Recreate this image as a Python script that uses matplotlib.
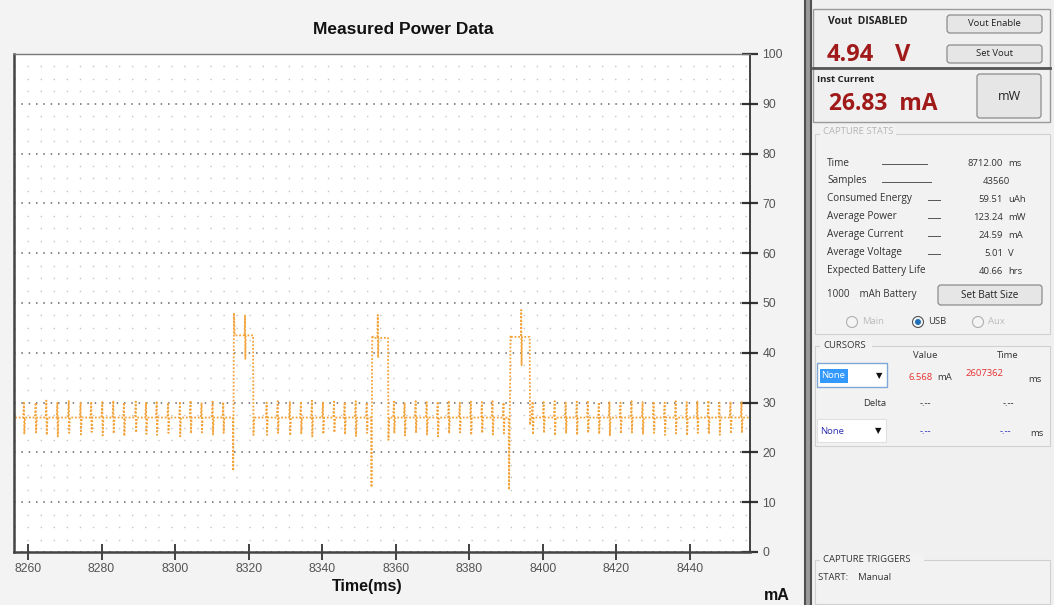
# Measured power trace + capture panel (screenshot style)
import matplotlib
matplotlib.use("Agg")
import matplotlib.pyplot as plt
from matplotlib.patches import Rectangle, FancyBboxPatch, Circle
from matplotlib.ticker import MultipleLocator

W, H = 1054, 605

# ---- trace data (ms / mA) ----
base_level = 27.0
spike_t = [8258.9, 8262.1, 8265.0, 8268.0, 8271.1, 8274.3, 8277.2, 8280.2, 8283.2, 8286.1,
           8289.3, 8292.1, 8295.0, 8298.1, 8301.3, 8304.2, 8307.2, 8310.2, 8313.1,
           8324.9, 8327.9, 8331.2, 8334.2, 8337.2, 8340.2, 8343.2, 8346.1, 8349.1, 8352.1,
           8359.5, 8362.4, 8365.4, 8368.4, 8371.4, 8374.4, 8377.4, 8380.4, 8383.4, 8386.3, 8389.3,
           8397.2, 8400.2, 8403.2, 8406.2, 8409.2, 8412.2, 8415.2, 8418.1, 8421.1, 8424.1,
           8427.1, 8430.1, 8433.1, 8436.1, 8439.1, 8442.0, 8445.0, 8448.0, 8451.0, 8454.0]
spike_hi = [30.2, 30.0, 30.4, 30.1, 30.3, 30.0, 30.2, 30.1, 30.4, 30.0,
            30.2, 30.1, 30.3, 30.0, 30.2, 30.4, 30.0, 30.2, 30.1,
            30.0, 30.3, 30.1, 30.2, 30.4, 30.0, 30.2, 30.1, 30.3, 30.0,
            30.2, 30.0, 30.3, 30.1, 30.2, 30.4, 30.0, 30.2, 30.1, 30.3, 30.0,
            30.2, 30.1, 30.3, 30.0, 30.2, 30.4, 30.1, 30.2, 30.0, 30.3,
            30.1, 30.2, 30.0, 30.3, 30.1, 30.2, 30.4, 30.0, 30.2, 30.1]
spike_lo = [23.8, 24.0, 23.5, 23.2, 23.9, 23.6, 24.1, 23.4, 23.8, 23.3,
            24.0, 23.7, 23.5, 23.9, 23.2, 23.8, 24.0, 23.6, 23.9,
            23.5, 23.9, 23.4, 23.8, 23.2, 23.7, 24.0, 23.6, 23.3, 23.9,
            23.8, 23.4, 23.9, 23.6, 23.2, 23.8, 24.0, 23.5, 23.9, 23.6, 23.8,
            23.6, 23.9, 23.4, 23.8, 23.5, 23.9, 23.7, 23.3, 23.8, 24.0,
            23.6, 23.9, 23.5, 23.8, 23.4, 23.9, 23.7, 23.5, 23.8, 23.9]

pulse_dip_t = [8315.8, 8353.4, 8390.8]
pulse_dip = [16.3, 13.0, 12.5]
pulse_rise = [8316.0, 8353.6, 8391.2]
pulse_rise_top = [48.0, 43.5, 43.5]
pulse_level = [43.5, 43.0, 43.2]
pulse_spk_t = [8319.0, 8355.1, 8394.1]
pulse_spk_hi = [47.5, 47.6, 48.6]
pulse_spk_lo = [38.8, 39.0, 37.5]
pulse_fall = [8321.2, 8357.9, 8396.4]
pulse_fall_low = [23.5, 22.5, 25.5]

x_ticks = [8260, 8280, 8300, 8320, 8340, 8360, 8380, 8400, 8420, 8440]
y_ticks = [0, 10, 20, 30, 40, 50, 60, 70, 80, 90, 100]

# ---- panel text ----
stat_labels = ["Time", "Samples", "Consumed Energy", "Average Power", "Average Current",
               "Average Voltage", "Expected Battery Life"]
stat_values = ["8712.00", "43560", "59.51", "123.24", "24.59", "5.01", "40.66"]
stat_units = ["ms", "", "uAh", "mW", "mA", "V", "hrs"]

# build the trace as one polyline
events = []
for t, hi, lo in zip(spike_t, spike_hi, spike_lo):
    events.append([(t - 0.2, base_level), (t, hi), (t + 0.1, lo), (t + 0.3, base_level)])
for i in range(len(pulse_rise)):
    events.append([(pulse_dip_t[i] - 0.1, base_level), (pulse_dip_t[i], pulse_dip[i]),
                   (pulse_rise[i], pulse_rise_top[i]), (pulse_rise[i] + 0.2, pulse_level[i]),
                   (pulse_spk_t[i] - 0.1, pulse_level[i]), (pulse_spk_t[i], pulse_spk_hi[i]),
                   (pulse_spk_t[i] + 0.1, pulse_spk_lo[i]), (pulse_spk_t[i] + 0.2, pulse_level[i]),
                   (pulse_fall[i], pulse_level[i]), (pulse_fall[i] + 0.1, pulse_fall_low[i]),
                   (pulse_fall[i] + 0.3, base_level)])
events.sort(key=lambda e: e[0][0])
tx, ty = [8256.5], [base_level]
for e in events:
    for a, b in e:
        tx.append(a)
        ty.append(b)
tx.append(8456.0)
ty.append(base_level)

fig = plt.figure(figsize=(W / 100, H / 100), dpi=100)
fig.patch.set_facecolor("#F0F0F0")

# background / ui layer in pixel coords
bg = fig.add_axes([0, 0, 1, 1])
bg.set_xlim(0, W)
bg.set_ylim(H, 0)
bg.axis("off")

ui = "Open Sans"
fs = 6.8
bg.add_patch(Rectangle((0, 0), 804, H, color="#F3F3F3", lw=0))
bg.add_patch(Rectangle((804, 0), 8, H, color="#9A9A9A", lw=0))
bg.plot([805, 805], [0, H], color="#505050", lw=1.5)
bg.plot([811, 811], [0, H], color="#505050", lw=1.5)

bg.text(403, 30, "Measured Power Data", ha="center", va="center", fontsize=12.5,
        fontweight="bold", family="Liberation Sans", color="#111")
bg.text(367, 586, "Time(ms)", ha="center", va="center", fontsize=11.5,
        fontweight="bold", family="Liberation Sans", color="#111")
bg.text(777, 596, "mA", ha="center", va="center", fontsize=11.5,
        fontweight="bold", family="Liberation Sans", color="#111")


def button(x0, y0, x1, y1, label, size=fs):
    bg.add_patch(FancyBboxPatch((x0, y0), x1 - x0, y1 - y0, boxstyle="round,pad=0,rounding_size=3",
                                fc="#E6E6E6", ec="#8C8C8C", lw=0.9))
    bg.text((x0 + x1) / 2, (y0 + y1) / 2, label, ha="center", va="center",
            fontsize=size, family=ui, color="#222")


def group(x0, y0, x1, y1, ec="#D0D0D0"):
    bg.add_patch(Rectangle((x0, y0), x1 - x0, y1 - y0, fc="#F2F2F2", ec=ec, lw=0.8))


# Vout / current block
bg.add_patch(Rectangle((813, 9), 237, 59, fc="#F0F0F0", ec="#9A9A9A", lw=1))
bg.add_patch(Rectangle((813, 68), 237, 54, fc="#F0F0F0", ec="#9A9A9A", lw=1))
bg.plot([813, 1050], [68, 68], color="#555", lw=2)
bg.text(828, 22, "Vout  DISABLED", ha="left", va="center", fontsize=7.5,
        fontweight="bold", family=ui, color="#222")
button(947, 15, 1042, 33, "Vout Enable")
button(947, 45, 1042, 63, "Set Vout")
bg.text(827, 55, "4.94", ha="left", va="center", fontsize=17, fontweight="bold",
        family=ui, color="#A01A1A")
bg.text(895, 55, "V", ha="left", va="center", fontsize=17, fontweight="bold",
        family=ui, color="#A01A1A")
bg.text(817, 79, "Inst Current", ha="left", va="center", fontsize=6.8,
        fontweight="bold", family=ui, color="#222")
bg.text(829, 104, "26.83  mA", ha="left", va="center", fontsize=16.5, fontweight="bold",
        family=ui, color="#A01A1A")
button(977, 74, 1041, 118, "mW", size=9)

# capture stats
group(815, 134, 1050, 334)
bg.add_patch(Rectangle((820, 125), 76, 12, fc="#F2F2F2", lw=0))
bg.text(823, 131, "CAPTURE STATS", ha="left", va="center", fontsize=fs,
        family=ui, color="#B5B5B5")
row_y = [163, 181, 199, 217, 235, 253, 271]
dash_x = [(882, 927), (882, 931), (928, 940), (928, 940), (928, 940), (928, 940), None]
for i, lab in enumerate(stat_labels):
    y = row_y[i]
    bg.text(827, y, lab, ha="left", va="center", fontsize=7.2, family=ui, color="#333")
    if dash_x[i]:
        bg.plot(dash_x[i], [y + 1, y + 1], color="#555", lw=0.7)
    if stat_units[i]:
        bg.text(1003, y, stat_values[i], ha="right", va="center", fontsize=fs, family=ui, color="#333")
        bg.text(1008, y, stat_units[i], ha="left", va="center", fontsize=fs, family=ui, color="#333")
    else:
        bg.text(1010, y, stat_values[i], ha="right", va="center", fontsize=fs, family=ui, color="#333")
bg.text(827, 295, "1000    mAh Battery", ha="left", va="center", fontsize=7, family=ui, color="#333")
button(938, 285, 1042, 305, "Set Batt Size", size=7.2)
for cx, lab, on in [(852, "Main", False), (918, "USB", True), (978, "Aux", False)]:
    bg.add_patch(Circle((cx, 322), 5.5, fc="#F4F4F4", ec="#B0B0B0" if not on else "#555", lw=0.8))
    if on:
        bg.add_patch(Circle((cx, 322), 3, fc="#1E6FB8", ec="none"))
    bg.text(cx + 10, 322, lab, ha="left", va="center", fontsize=fs, family=ui,
            color="#333" if on else "#BBBBBB")

# cursors
group(815, 346, 1050, 446)
bg.add_patch(Rectangle((820, 339), 52, 12, fc="#F2F2F2", lw=0))
bg.text(823, 345, "CURSORS", ha="left", va="center", fontsize=fs, family=ui, color="#333")
bg.text(925, 356, "Value", ha="center", va="center", fontsize=fs, family=ui, color="#333")
bg.text(1008, 356, "Time", ha="center", va="center", fontsize=fs, family=ui, color="#333")
bg.add_patch(Rectangle((817, 363), 70, 24, fc="#FFFFFF", ec="#7EA6D6", lw=1))
bg.add_patch(Rectangle((820, 369), 28, 14, fc="#3399FF", lw=0))
bg.text(821, 376, "None", ha="left", va="center", fontsize=fs, family=ui, color="white")
bg.text(879, 376, "\u25BC", ha="center", va="center", fontsize=6, family="DejaVu Sans", color="#111")
bg.text(933, 377, "6.568", ha="right", va="center", fontsize=fs, family=ui, color="#E83030")
bg.text(937, 378, "mA", ha="left", va="center", fontsize=fs, family=ui, color="#333")
bg.text(1003, 373, "2607362", ha="right", va="center", fontsize=fs, family=ui, color="#E83030")
bg.text(1028, 380, "ms", ha="left", va="center", fontsize=fs, family=ui, color="#333")
bg.text(886, 404, "Delta", ha="right", va="center", fontsize=fs, family=ui, color="#333")
bg.text(925, 404, "-.--", ha="center", va="center", fontsize=fs, family=ui, color="#333")
bg.text(1008, 404, "-.--", ha="center", va="center", fontsize=fs, family=ui, color="#333")
bg.add_patch(Rectangle((817, 419), 69, 23, fc="#FFFFFF", ec="#E0E0E0", lw=0.8))
bg.text(820, 431, "None", ha="left", va="center", fontsize=fs, family=ui, color="#3030B0")
bg.text(878, 431, "\u25BC", ha="center", va="center", fontsize=6, family="DejaVu Sans", color="#111")
bg.text(925, 432, "-.--", ha="center", va="center", fontsize=fs, family=ui, color="#3030C0")
bg.text(1005, 432, "-.--", ha="center", va="center", fontsize=fs, family=ui, color="#3030C0")
bg.text(1030, 433, "ms", ha="left", va="center", fontsize=fs, family=ui, color="#333")

# triggers
group(815, 560, 1050, 604)
bg.add_patch(Rectangle((820, 553), 104, 12, fc="#F2F2F2", lw=0))
bg.text(823, 560, "CAPTURE TRIGGERS", ha="left", va="center", fontsize=fs, family=ui, color="#333")
bg.text(818, 577, "START:    Manual", ha="left", va="center", fontsize=fs, family=ui, color="#333")

# ---- main plot ----
ax = fig.add_axes([14 / W, 1 - 552 / H, 736 / W, 498 / H])
ax.set_facecolor("white")
ax.set_xlim(8256.2, 8456.3)
ax.set_ylim(0, 100)
ax.yaxis.tick_right()
ax.set_xticks(x_ticks)
ax.set_yticks(y_ticks)
ax.yaxis.set_minor_locator(MultipleLocator(2.5))
ax.tick_params(axis="both", which="minor", length=0)
ax.tick_params(axis="x", which="major", direction="inout", length=12, width=1.3,
               color="#333", labelsize=8.8, labelcolor="#555", pad=2)
ax.tick_params(axis="y", which="major", direction="inout", length=12, width=1.6,
               color="#333", labelsize=8.8, labelcolor="#555", pad=3)
for lab in ax.get_xticklabels() + ax.get_yticklabels():
    lab.set_family("Liberation Sans")

ax.grid(axis="y", which="major", color="#666666", linestyle=(0, (1, 3.8)), lw=1.1)
ax.grid(axis="y", which="minor", color="#C4C4C4", linestyle=(0, (1, 8.4)), lw=1)

for side in ["left", "bottom"]:
    ax.spines[side].set_color("#444")
    ax.spines[side].set_linewidth(1.8)
ax.spines["right"].set_color("#222")
ax.spines["right"].set_linewidth(1.2)
ax.spines["top"].set_color("#777")
ax.spines["top"].set_linewidth(1)

ax.plot(tx, ty, color="#F2A33A", lw=1.3, linestyle=(0, (1, 1)))

fig.savefig("out.png", dpi=100, facecolor=fig.get_facecolor())
